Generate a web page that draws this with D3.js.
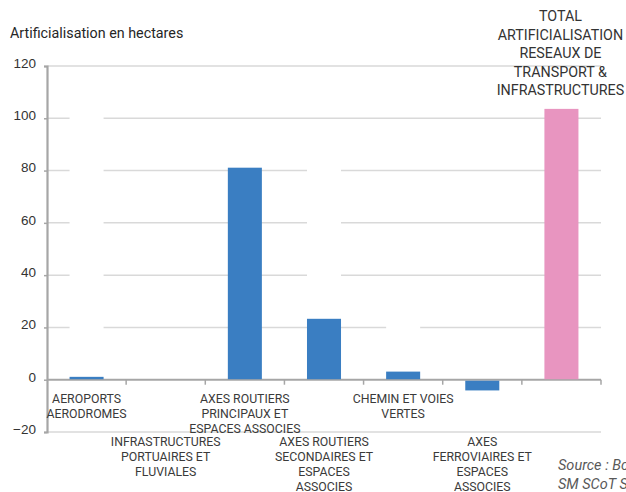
<!DOCTYPE html>
<html><head><meta charset="utf-8">
<script src="https://cdn.jsdelivr.net/npm/d3@7"></script>
<style>
body{margin:0;background:#fff;}
svg{display:block;font-family:Roboto, "Noto Sans", sans-serif;}
</style></head>
<body><svg id="c" width="626" height="492"></svg>
<script>
const categories = [
  "AEROPORTS AERODROMES",
  "INFRASTRUCTURES PORTUAIRES ET FLUVIALES",
  "AXES ROUTIERS PRINCIPAUX ET ESPACES ASSOCIES",
  "AXES ROUTIERS SECONDAIRES ET ESPACES ASSOCIES",
  "CHEMIN ET VOIES VERTES",
  "AXES FERROVIAIRES ET ESPACES ASSOCIES",
  "TOTAL ARTIFICIALISATION RESEAUX DE TRANSPORT & INFRASTRUCTURES"
];
const labelLines = [
  ["AEROPORTS","AERODROMES"],
  ["INFRASTRUCTURES","PORTUAIRES ET","FLUVIALES"],
  ["AXES ROUTIERS","PRINCIPAUX ET","ESPACES ASSOCIES"],
  ["AXES ROUTIERS","SECONDAIRES ET","ESPACES","ASSOCIES"],
  ["CHEMIN ET VOIES","VERTES"],
  ["AXES","FERROVIAIRES ET","ESPACES","ASSOCIES"],
  ["TOTAL","ARTIFICIALISATION","RESEAUX DE","TRANSPORT &","INFRASTRUCTURES"]
];
const values = [1.1, 0, 81.1, 23.3, 3.1, -4.1, 103.6];
const barColors = ["#3a7ec2","#3a7ec2","#3a7ec2","#3a7ec2","#3a7ec2","#3a7ec2","#e895c0"];
const yTicks = [-20, 0, 20, 40, 60, 80, 100, 120];
const yTitle = "Artificialisation en hectares";
const sourceLines = ["Source : Bc", "SM SCoT S"];
// hidden (white) label boxes that interrupt the gridlines: [category index, top value, bottom value]
const hiddenBoxes = [[0, 106, 14], [3, 90, 30], [4, 26, 14]];

const svg = d3.select("#c");
const x = d3.scaleBand().domain(categories).range([47, 601]).padding(0);
const y = d3.scaleLinear().domain([-20, 120]).range([432, 66]);
const bw = x.bandwidth() * 0.43;
const cx = i => x(categories[i]) + x.bandwidth() / 2;

// gridlines
svg.append("g").selectAll("line").data(yTicks.filter(d => d !== 0)).join("line")
  .attr("x1", 47).attr("x2", 601)
  .attr("y1", d => y(d)).attr("y2", d => y(d))
  .attr("stroke", "#d9d9d9").attr("stroke-width", 1.5);

// hidden label boxes
svg.append("g").selectAll("rect").data(hiddenBoxes).join("rect")
  .attr("x", d => cx(d[0]) - bw / 2).attr("width", bw)
  .attr("y", d => y(d[1])).attr("height", d => y(d[2]) - y(d[1]))
  .attr("fill", "#fff");

// y axis
const yAxis = d3.axisLeft(y).tickValues(yTicks).tickSize(3).tickPadding(8);
const gy = svg.append("g").attr("transform", "translate(47,0)").call(yAxis);
gy.select(".domain").attr("stroke", "#a6a6a6").attr("stroke-width", 2.2);
gy.selectAll(".tick line").attr("stroke", "#a6a6a6").attr("stroke-width", 1.5);
gy.selectAll(".tick text").attr("fill", "#333").attr("font-size", 13.5)
  .attr("dy", "0.1em");

// x axis (category boundaries)
const bounds = categories.map(c => x(c)).concat([601]);
svg.append("line").attr("x1", 47).attr("x2", 601).attr("y1", y(0)).attr("y2", y(0))
  .attr("stroke", "#a6a6a6").attr("stroke-width", 2);
svg.append("g").selectAll("line").data(bounds.slice(1)).join("line")
  .attr("x1", d => d).attr("x2", d => d).attr("y1", y(0)).attr("y2", y(0) + 5)
  .attr("stroke", "#a6a6a6").attr("stroke-width", 1.5);

// bars
svg.append("g").selectAll("rect").data(values).join("rect")
  .attr("x", (d, i) => cx(i) - bw / 2).attr("width", bw)
  .attr("y", d => d >= 0 ? y(d) : y(0) + 1)
  .attr("height", d => d >= 0 ? y(0) - y(d) - 0.5 : y(d) - y(0) - 1)
  .attr("fill", (d, i) => barColors[i]);

// category labels
const lab = svg.append("g").attr("fill", "#3a3a3a").attr("font-size", 12.3).attr("text-anchor", "middle");
labelLines.forEach((lines, i) => {
  if (i === 6) return;
  const top = (i % 2 === 0) ? 403 : 446;
  const t = lab.append("text").attr("x", cx(i)).attr("y", top);
  lines.forEach((l, k) => t.append("tspan").attr("x", cx(i)).attr("y", top + k * 15).text(l));
});
// total label above
const tt = svg.append("text").attr("fill", "#333").attr("font-size", 14.3).attr("text-anchor", "middle");
labelLines[6].forEach((l, k) => tt.append("tspan").attr("x", cx(6) - 1).attr("y", 21 + k * 18.5).text(l));

// title
svg.append("text").attr("x", 10).attr("y", 38).attr("fill", "#262626").attr("font-size", 14.3).text(yTitle);

// source
const st = svg.append("text").attr("fill", "#595959").attr("font-size", 14.5).attr("font-style", "italic");
sourceLines.forEach((l, k) => st.append("tspan").attr("x", 558).attr("y", 470 + k * 19).text(l));
</script></body></html>
